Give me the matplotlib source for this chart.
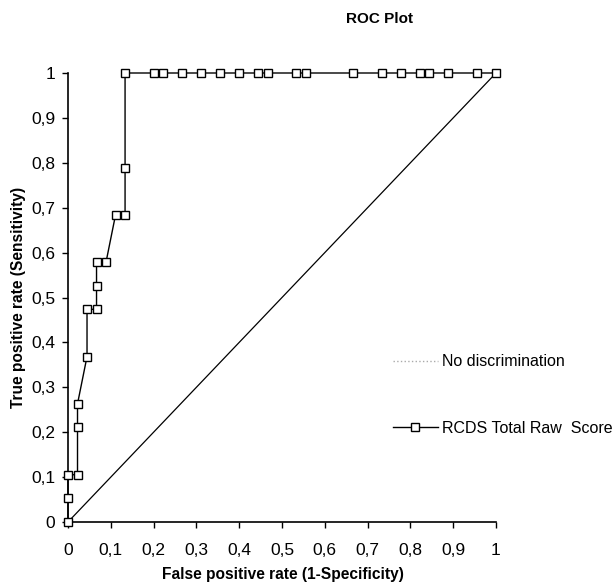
import matplotlib
matplotlib.use("Agg")
import matplotlib.pyplot as plt
from matplotlib.lines import Line2D

plt.rcParams['font.family'] = ['Liberation Sans', 'DejaVu Sans']

# ROC data (n negatives = 45, n positives = 19)
fpr = [0, 0, 0, 1/45, 1/45, 1/45, 2/45, 2/45, 3/45, 3/45, 3/45, 4/45, 5/45, 6/45, 6/45, 6/45,
       9/45, 10/45, 12/45, 14/45, 16/45, 18/45, 20/45, 21/45, 24/45, 25/45, 30/45, 33/45,
       35/45, 37/45, 38/45, 40/45, 43/45, 45/45]
tpr = [0, 1/19, 2/19, 2/19, 4/19, 5/19, 7/19, 9/19, 9/19, 10/19, 11/19, 11/19, 13/19, 13/19, 15/19, 1,
       1, 1, 1, 1, 1, 1, 1, 1, 1, 1, 1, 1,
       1, 1, 1, 1, 1, 1]
diag_x = [0, 1]
diag_y = [0, 1]
ticks = [0, 0.1, 0.2, 0.3, 0.4, 0.5, 0.6, 0.7, 0.8, 0.9, 1]
tick_labels = ['0', '0,1', '0,2', '0,3', '0,4', '0,5', '0,6', '0,7', '0,8', '0,9', '1']

W, H = 616, 588
fig = plt.figure(figsize=(W/100, H/100), dpi=100)
ax = fig.add_axes([68/W, 1-522/H, (496-68)/W, (522-73)/H])

ax.plot(diag_x, diag_y, color='black', lw=0.9, clip_on=False)
ax.plot(fpr, tpr, color='black', lw=1.0, marker='s', markersize=5.5,
        markerfacecolor='white', markeredgecolor='black', markeredgewidth=1.0,
        clip_on=False, zorder=3)

ax.set_xlim(0, 1)
ax.set_ylim(0, 1)
ax.set_xticks(ticks)
ax.set_xticklabels(tick_labels)
ax.set_yticks(ticks)
ax.set_yticklabels(tick_labels)
for s in ['top', 'right']:
    ax.spines[s].set_visible(False)
for s in ['left', 'bottom']:
    ax.spines[s].set_linewidth(1.2)
ax.tick_params(direction='out', length=4, width=1, labelsize=12.5)
ax.tick_params(axis='x', pad=11)
ax.tick_params(axis='y', pad=5)

fig.text(19/W, 1-297/H, 'True positive rate (Sensitivity)', fontsize=11.2, fontweight='bold',
         rotation=90, ha='center', va='center')
fig.text(283/W, 1-575/H, 'False positive rate (1-Specificity)', fontsize=11.2, fontweight='bold',
         ha='center', va='center')
fig.text(379/W, 1-19/H, 'ROC Plot', fontsize=11, fontweight='bold', ha='center', va='center')

h1 = Line2D([], [], color='#aaaaaa', ls=':', lw=1.0)
h2 = Line2D([], [], color='black', lw=1.0, marker='s', markersize=5.5,
            markerfacecolor='white', markeredgecolor='black')
fig.legend([h1, h2], ['No discrimination', 'RCDS Total Raw  Score'],
           loc='center left', bbox_to_anchor=(393/W, 1-395/H), frameon=False,
           fontsize=11.5, handlelength=2.8, handletextpad=0.25, labelspacing=3.2,
           borderpad=0, borderaxespad=0)

fig.savefig('out.png', dpi=100)
